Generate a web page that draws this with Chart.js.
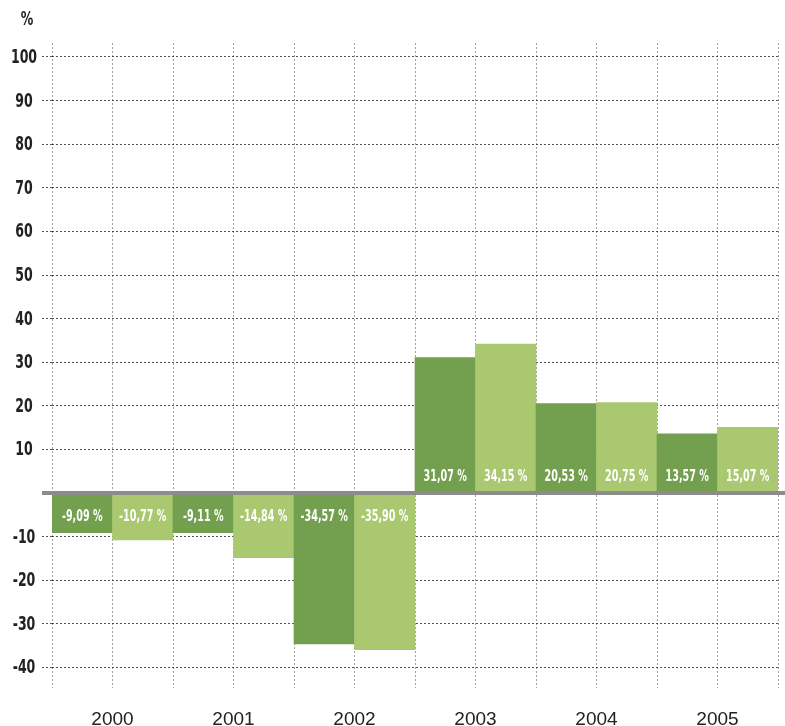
<!DOCTYPE html>
<html>
<head>
<meta charset="utf-8">
<script src="https://cdn.jsdelivr.net/npm/chart.js@4/dist/chart.umd.min.js"></script>
<style>
  html, body { margin: 0; padding: 0; background: #fff; }
  #wrap { width: 785px; height: 726px; position: relative; }
</style>
</head>
<body>
<div id="wrap"><canvas id="myChart"></canvas></div>
<script>
// two bars per year
var years = ['2000', '2001', '2002', '2003', '2004', '2005'];
var bars = ['2000a', '2000b', '2001a', '2001b', '2002a', '2002b', '2003a', '2003b', '2004a', '2004b', '2005a', '2005b'];
var values = [-9.09, -10.77, -9.11, -14.84, -34.57, -35.90, 31.07, 34.15, 20.53, 20.75, 13.57, 15.07];
var yTicks = [-40, -30, -20, -10, 0, 10, 20, 30, 40, 50, 60, 70, 80, 90, 100];

var dark = '#72a04f';
var light = '#aac86f';
var colors = values.map(function (v, i) { return i % 2 == 0 ? dark : light; });

var boldFont = "'DejaVu Sans', sans-serif";

// draw text squeezed horizontally (the original uses a condensed face)
function narrowText(ctx, txt, x, y, squeeze) {
  ctx.save();
  ctx.translate(x, y);
  ctx.scale(squeeze, 1);
  ctx.fillText(txt, 0, 0);
  ctx.restore();
}

var extras = {
  id: 'extras',
  afterDatasetsDraw: function (chart) {
    var ctx = chart.ctx;
    var y = chart.scales.y;
    var y0 = y.getPixelForValue(0);
    ctx.save();
    // zero line
    ctx.strokeStyle = '#8c8c8c';
    ctx.lineWidth = 4;
    ctx.beginPath();
    ctx.moveTo(chart.chartArea.left - 10, y0);
    ctx.lineTo(chart.width, y0);
    ctx.stroke();

    // values inside the bars
    ctx.fillStyle = '#ffffff';
    ctx.font = 'bold 16px ' + boldFont;
    ctx.textAlign = 'center';
    ctx.textBaseline = 'middle';
    chart.getDatasetMeta(0).data.forEach(function (bar, i) {
      var v = values[i];
      var txt = v.toFixed(2).replace('.', ',') + ' %';
      var ty = v < 0 ? y0 + 24 : y0 - 16;
      narrowText(ctx, txt, bar.x, ty, 0.6);
    });

    // y tick labels
    ctx.fillStyle = '#222';
    ctx.font = 'bold 19px ' + boldFont;
    yTicks.forEach(function (v) {
      if (v == 0) return;
      narrowText(ctx, String(v), 24, y.getPixelForValue(v) + 1, 0.66);
    });
    narrowText(ctx, '%', 27, 20, 0.66);
    ctx.restore();
  }
};

var ctx = document.getElementById('myChart').getContext('2d');
var myChart = new Chart(ctx, {
  type: 'bar',
  data: {
    labels: bars,
    datasets: [{
      data: values,
      backgroundColor: colors,
      borderWidth: 0,
      categoryPercentage: 1.0,
      barPercentage: 1.0
    }]
  },
  options: {
    responsive: true,
    maintainAspectRatio: false,
    animation: false,
    layout: { padding: { top: 43, right: 7, left: 0, bottom: 0 } },
    plugins: {
      legend: { display: false },
      tooltip: { enabled: false }
    },
    scales: {
      x: {
        position: 'bottom',
        weight: 0,
        offset: true,
        ticks: { display: false },
        border: { display: false, dash: [2, 2] },
        grid: {
          offset: true,
          drawTicks: false,
          color: 'rgba(110,110,110,0.65)',
          lineWidth: 1
        }
      },
      years: {
        type: 'category',
        position: 'bottom',
        weight: 1,
        labels: years,
        offset: true,
        border: { display: false },
        grid: { display: false, drawTicks: false },
        afterFit: function (scale) { scale.height = 38; },
        ticks: {
          padding: 20,
          color: '#222',
          font: { family: "'Liberation Sans', Arial, sans-serif", size: 19 },
          maxRotation: 0,
          autoSkip: false
        }
      },
      y: {
        min: -44.7,
        max: 103.2,
        afterBuildTicks: function (scale) {
          scale.ticks = yTicks.map(function (v) { return { value: v }; });
        },
        afterFit: function (scale) { scale.width = 52; },
        border: { display: false, dash: [2, 2] },
        grid: {
          color: 'rgba(40,40,40,0.8)',
          lineWidth: 1,
          tickLength: 10,
          tickBorderDash: [2, 2],
          tickColor: 'rgba(40,40,40,0.8)'
        },
        ticks: { display: false }
      }
    }
  },
  plugins: [extras]
});
</script>
</body>
</html>
